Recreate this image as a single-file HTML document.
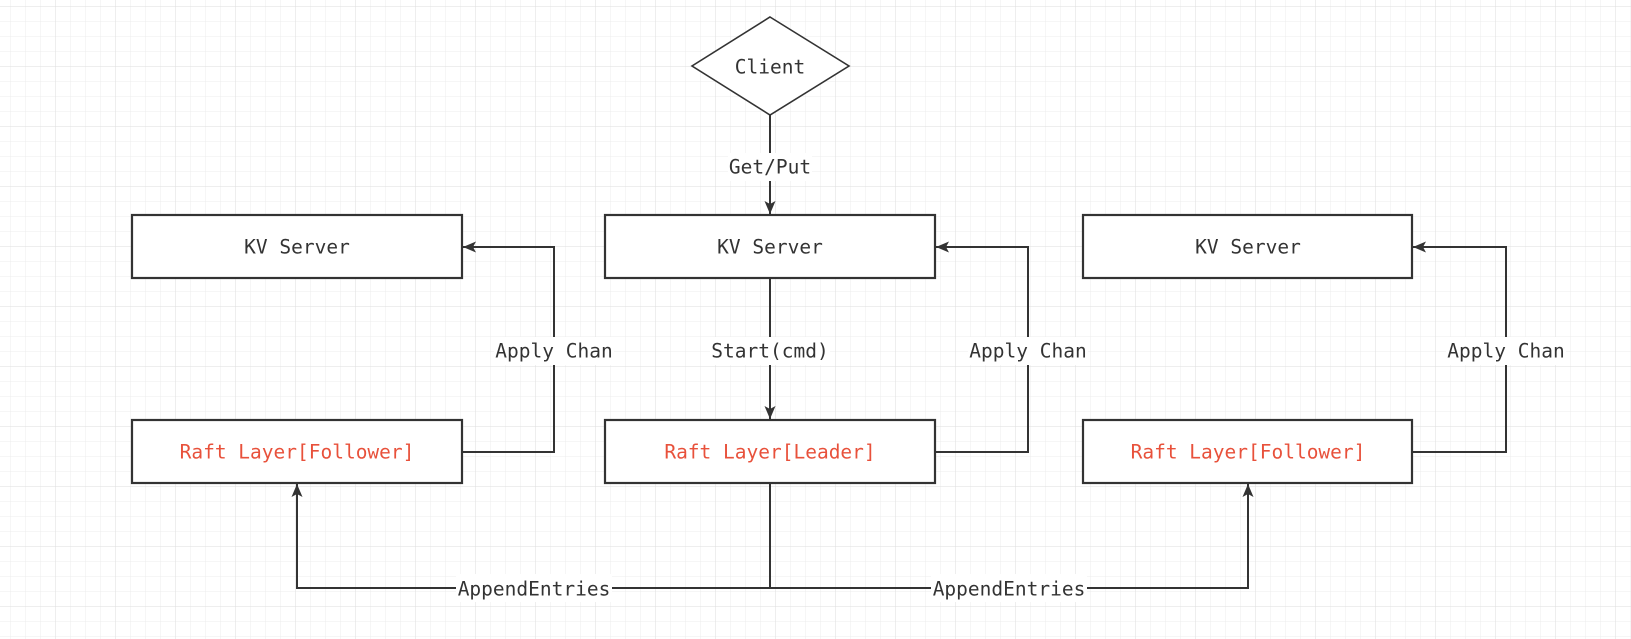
<!DOCTYPE html>
<html><head><meta charset="utf-8"><style>
html,body{margin:0;padding:0;background:#fff;}
svg{display:block}
text{font-family:"DejaVu Sans Mono","Liberation Mono",monospace;font-size:19.5px;fill:#333;}
</style></head><body>
<svg width="1631" height="639" viewBox="0 0 1631 639" xmlns="http://www.w3.org/2000/svg">
<defs>
<pattern id="minor" x="10.5" y="6" width="15" height="15" patternUnits="userSpaceOnUse">
<path d="M0 0V15M0 0H15" stroke="#ececec" stroke-width="1" fill="none"/>
</pattern>
<pattern id="major" x="55.5" y="6" width="60" height="60" patternUnits="userSpaceOnUse">
<path d="M0 0V60M0 0H60" stroke="#dedede" stroke-width="1" fill="none"/>
</pattern>
<marker id="ar" markerWidth="14" markerHeight="12" refX="13" refY="6" orient="auto" markerUnits="userSpaceOnUse">
<path d="M0 0.5L13 6L0 11.5L3 6Z" fill="#333"/>
</marker>
</defs>
<rect width="1631" height="639" fill="url(#minor)"/>
<rect width="1631" height="639" fill="url(#major)"/>

<g stroke="#333" fill="none" stroke-width="2">
<line x1="770" y1="115" x2="770" y2="214" marker-end="url(#ar)"/>
<line x1="770" y1="278" x2="770" y2="419" marker-end="url(#ar)"/>
<polyline points="462,452 554,452 554,247 463,247" marker-end="url(#ar)"/>
<polyline points="935,452 1028,452 1028,247 936,247" marker-end="url(#ar)"/>
<polyline points="1412,452 1506,452 1506,247 1413,247" marker-end="url(#ar)"/>
<line x1="770" y1="483" x2="770" y2="588"/>
<polyline points="770,588 297,588 297,484" marker-end="url(#ar)"/>
<polyline points="770,588 1248,588 1248,484" marker-end="url(#ar)"/>
</g>

<polygon points="770,17 849,66 770,115 692,66" fill="#fff" stroke="#333" stroke-width="1.6"/>
<g fill="#fff" stroke="#333" stroke-width="2.2">
<rect x="132" y="215" width="330" height="63"/>
<rect x="605" y="215" width="330" height="63"/>
<rect x="1083" y="215" width="329" height="63"/>
<rect x="132" y="420" width="330" height="63"/>
<rect x="605" y="420" width="330" height="63"/>
<rect x="1083" y="420" width="329" height="63"/>
</g>

<g fill="#fff">
<rect x="728" y="153" width="84" height="28"/>
<rect x="494" y="337" width="120" height="28"/>
<rect x="710" y="337" width="120" height="28"/>
<rect x="968" y="337" width="120" height="28"/>
<rect x="1446" y="337" width="120" height="28"/>
<rect x="456" y="574" width="156" height="28"/>
<rect x="931" y="574" width="156" height="28"/>
</g>

<g text-anchor="middle" dominant-baseline="central">
<text x="770" y="67">Client</text>
<text x="770" y="167">Get/Put</text>
<text x="297" y="247">KV Server</text>
<text x="770" y="247">KV Server</text>
<text x="1248" y="247">KV Server</text>
<text x="554" y="351">Apply Chan</text>
<text x="770" y="351">Start(cmd)</text>
<text x="1028" y="351">Apply Chan</text>
<text x="1506" y="351">Apply Chan</text>
<text x="297" y="452" style="fill:#e8513b">Raft Layer[Follower]</text>
<text x="770" y="452" style="fill:#e8513b">Raft Layer[Leader]</text>
<text x="1248" y="452" style="fill:#e8513b">Raft Layer[Follower]</text>
<text x="534" y="589">AppendEntries</text>
<text x="1009" y="589">AppendEntries</text>
</g>
</svg>
</body></html>
